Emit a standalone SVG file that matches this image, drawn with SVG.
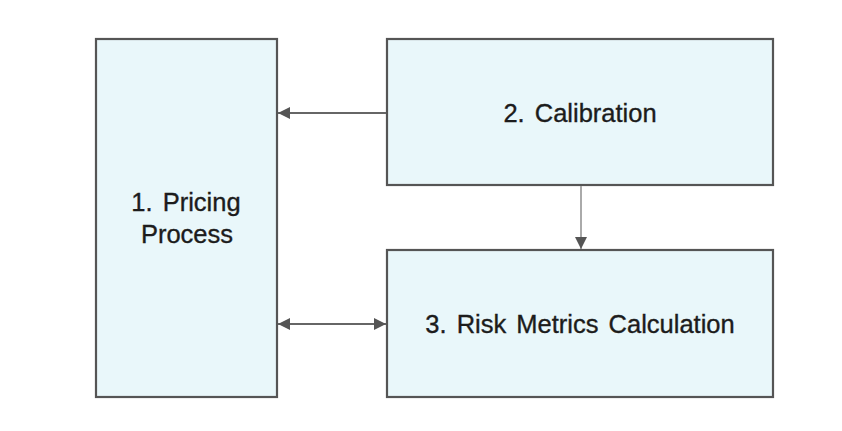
<svg xmlns="http://www.w3.org/2000/svg" width="842" height="431" viewBox="0 0 842 431">
<style>
.box{fill:#e9f7fa;stroke:#555555;stroke-width:2.2}
.lbl{font-family:"Liberation Sans",Arial,sans-serif;font-size:25.5px;fill:#1c1c1c;stroke:#1c1c1c;stroke-width:0.35;text-anchor:middle;word-spacing:3px}
.con{fill:none;stroke:#666666;stroke-width:2}
.con2{fill:none;stroke:#aaaaaa;stroke-width:2}
</style>
<defs>
<marker id="ah" viewBox="0 0 10 10" refX="10" refY="5" markerWidth="12" markerHeight="12" markerUnits="userSpaceOnUse" orient="auto-start-reverse">
<path d="M0,0 L10,5 L0,10 Z" fill="#555555"/>
</marker>
</defs>
<rect width="842" height="431" fill="#ffffff"/>
<g id="node1">
<rect class="box" x="96" y="39" width="181" height="358"/>
<text class="lbl" x="186" y="211">1. Pricing</text>
<text class="lbl" x="187" y="243">Process</text>
</g>
<g id="node2">
<rect class="box" x="387" y="39" width="386" height="146"/>
<text class="lbl" x="580" y="122">2. Calibration</text>
</g>
<g id="node3">
<rect class="box" x="387" y="250" width="386" height="147"/>
<text class="lbl" x="580" y="333">3. Risk Metrics Calculation</text>
</g>
<g id="connectors">
<line class="con" x1="386" y1="113" x2="278" y2="113" marker-end="url(#ah)"/>
<line class="con2" x1="581" y1="186" x2="581" y2="249" marker-end="url(#ah)"/>
<line class="con" x1="278" y1="324" x2="386" y2="324" marker-start="url(#ah)" marker-end="url(#ah)"/>
</g>
</svg>
